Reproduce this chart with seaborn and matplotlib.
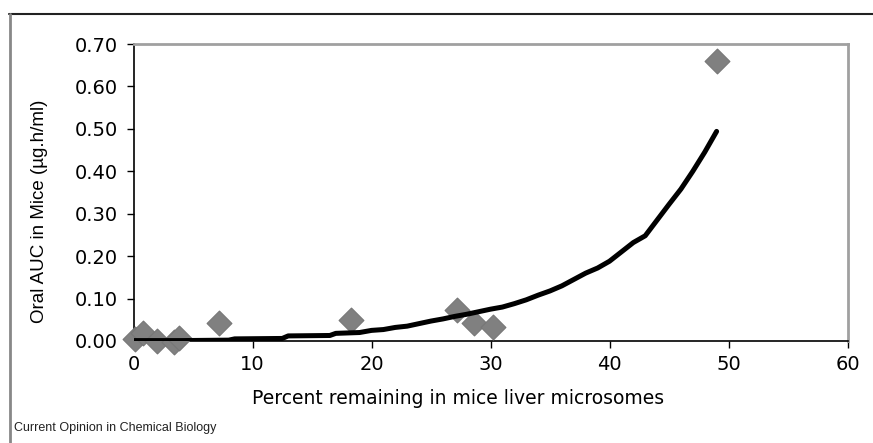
import matplotlib
matplotlib.use("Agg")
import matplotlib.pyplot as plt
import seaborn as sns
import pandas as pd
from matplotlib.lines import Line2D

sns.set_theme(style="white")
plt.rcParams['font.family'] = ['DejaVu Sans']
plt.rcParams['text.color'] = 'black'
plt.rcParams['axes.labelcolor'] = 'black'
plt.rcParams['xtick.color'] = 'black'
plt.rcParams['ytick.color'] = 'black'

# Observed data (gray diamonds)
obs_x = [0.1, 0.8, 2.0, 3.4, 3.8, 7.2, 18.3, 27.2, 28.6, 30.2, 49.0]
obs_y = [0.005, 0.018, 0.000, -0.003, 0.008, 0.042, 0.049, 0.073, 0.043, 0.032, 0.660]

# Fitted curve (black line)
fit_x = [0.0, 4.0, 8.0, 8.5, 12.5, 13.0, 16.5, 17.0, 19.0, 20.0, 21.0, 22.0,
         23.0, 24.0, 25.0, 26.0, 27.0, 28.0, 29.0, 30.0, 31.0, 32.0, 33.0,
         34.0, 35.0, 36.0, 37.0, 38.0, 39.0, 40.0, 41.0, 42.0, 43.0, 44.0,
         45.0, 46.0, 47.0, 48.0, 49.0]
fit_y = [0.001, 0.001, 0.002, 0.005, 0.006, 0.012, 0.013, 0.018, 0.020, 0.025,
         0.027, 0.032, 0.035, 0.041, 0.047, 0.052, 0.058, 0.063, 0.069, 0.075,
         0.080, 0.088, 0.097, 0.108, 0.118, 0.130, 0.145, 0.160, 0.172, 0.188,
         0.210, 0.232, 0.248, 0.285, 0.322, 0.358, 0.400, 0.445, 0.494]

x_ticks = [0, 10, 20, 30, 40, 50, 60]
y_ticks = [0.0, 0.1, 0.2, 0.3, 0.4, 0.5, 0.6, 0.7]
y_ticklabels = ["0.00", "0.10", "0.20", "0.30", "0.40", "0.50", "0.60", "0.70"]

obs = pd.DataFrame({"x": obs_x, "y": obs_y})
fit = pd.DataFrame({"x": fit_x, "y": fit_y})

fig = plt.figure(figsize=(8.73, 4.43), dpi=100)
ax = fig.add_axes([133.5 / 873, 1 - 341 / 443, (847.5 - 133.5) / 873, (341 - 44) / 443])

sns.scatterplot(data=obs, x="x", y="y", ax=ax, marker="D", s=160,
                color="#808080", edgecolor="#777777", linewidth=0.8, zorder=3,
                clip_on=False)
sns.lineplot(data=fit, x="x", y="y", ax=ax, color="black", linewidth=3.6,
             zorder=4, sort=False)

ax.set_xlim(0, 60)
ax.set_ylim(0, 0.7)
ax.set_xticks(x_ticks)
ax.set_yticks(y_ticks)
ax.set_yticklabels(y_ticklabels)
ax.tick_params(axis="both", which="major", labelsize=14, direction="out",
               length=5, width=1, color="black", labelcolor="black",
               left=True, bottom=True)
ax.tick_params(axis="y", pad=6)
ax.tick_params(axis="x", pad=5)
ax.set_xlabel("Percent remaining in mice liver microsomes", fontsize=13.5,
              color="black")
ax.set_ylabel("Oral AUC in Mice (µg.h/ml)", fontsize=13.5, color="black",
              family=["Liberation Sans", "DejaVu Sans"])
ax.xaxis.set_label_coords((458.5 - 133.5) / 714, -(398 - 341) / 297)
ax.xaxis.label.set_va("center")
ax.yaxis.set_label_coords(-(133.5 - 40) / 714, (341 - 211) / 297)
ax.yaxis.label.set_va("center")

for s in ["left", "bottom"]:
    ax.spines[s].set_color("black")
    ax.spines[s].set_linewidth(1.2)
for s in ["top", "right"]:
    ax.spines[s].set_color("#a0a0a0")
    ax.spines[s].set_linewidth(2)
ax.grid(False)

# outer frame
fig.add_artist(Line2D([9 / 873, 1], [1 - 14 / 443, 1 - 14 / 443],
                      transform=fig.transFigure, color="#222222", linewidth=1.5))
fig.add_artist(Line2D([10 / 873, 10 / 873], [0, 1 - 14 / 443],
                      transform=fig.transFigure, color="#888888", linewidth=2))

fig.text(14 / 873, 1 - 428 / 443, "Current Opinion in Chemical Biology",
         fontsize=9, color="#222222", ha="left", va="center",
         family=["Liberation Sans", "DejaVu Sans"])

fig.savefig("out.png", dpi=100)
